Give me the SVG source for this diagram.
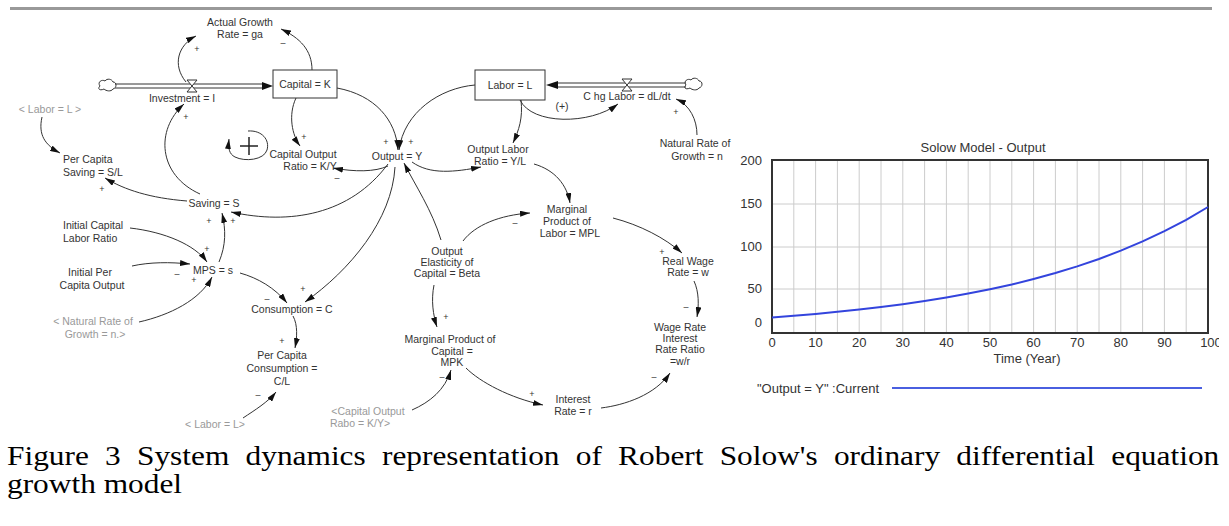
<svg xmlns="http://www.w3.org/2000/svg" width="1229" height="526" viewBox="0 0 1229 526">
<style>
.t{font-family:"Liberation Sans",Arial,sans-serif;font-size:10.5px;fill:#333;text-anchor:middle}
.s{font-family:"Liberation Sans",Arial,sans-serif;font-size:10.5px;fill:#999;text-anchor:middle}
.l{text-anchor:start}
.sg{font-family:"Liberation Sans",Arial,sans-serif;font-size:9px;fill:#333;text-anchor:middle}
.c{fill:none;stroke:#333;stroke-width:1;marker-end:url(#ah)}
.box{fill:#fff;stroke:#333;stroke-width:1}
.pipe{stroke:#333;stroke-width:1;fill:none}
.ct{font-family:"Liberation Sans",Arial,sans-serif;font-size:13px;fill:#333}
.grid{stroke:#ccc;stroke-width:1}
.cap{font-family:"Liberation Serif","Times New Roman",serif;font-size:28px;fill:#000}
</style>
<defs>
<marker id="ah" markerWidth="10" markerHeight="6" refX="10" refY="3" orient="auto" markerUnits="userSpaceOnUse">
<path d="M0,0 L10,3 L0,6 Z" fill="#111"/>
</marker>
<clipPath id="chartclip"><rect x="720" y="120" width="499" height="300"/></clipPath>
</defs>

<rect x="10" y="7" width="1202" height="3" fill="#999"/>

<g id="connectors">
<path class="c" d="M186,82 C172,65 178,45 196,36"/>
<path class="c" d="M312,70 C312,50 300,38 281,29"/>
<path class="c" d="M200,194 C158,175 155,130 184,104"/>
<path class="c" d="M42,117 C38,135 45,145 60,153"/>
<path class="c" d="M187,201 C150,198 125,190 105,178"/>
<path class="c" d="M388,164 C350,215 290,225 231,212"/>
<path class="c" d="M219,262 C226,245 226,230 222,213"/>
<path class="c" d="M130,228 C165,232 195,245 207,262"/>
<path class="c" d="M132,266 C150,262 170,262 190,264"/>
<path class="c" d="M139,322 C170,315 200,300 212,277"/>
<path class="c" d="M240,273 C258,278 275,288 287,303"/>
<path class="c" d="M395,167 C392,220 350,270 305,302"/>
<path class="c" d="M293,316 C298,325 297,338 295,348"/>
<path class="c" d="M243,418 C255,410 268,402 276,392"/>
<path class="c" d="M296,98 C288,115 292,135 300,146"/>
<path class="c" d="M388,166 C375,172 355,172 333,168"/>
<path class="c" d="M337,88 C375,95 396,120 398,150"/>
<path class="c" d="M475,85 C440,88 404,112 399,150"/>
<path class="c" d="M520,100 C532,125 590,125 618,104"/>
<path class="c" d="M697,135 C697,120 690,105 676,99"/>
<path class="c" d="M521,100 C523,118 519,130 513,143"/>
<path class="c" d="M412,162 C430,175 455,172 481,167"/>
<path class="c" d="M534,164 C555,170 567,185 570,203"/>
<path class="c" d="M441,240 C432,210 415,185 404,163"/>
<path class="c" d="M463,241 C475,225 500,215 530,213"/>
<path class="c" d="M434,285 C431,300 433,315 437,327"/>
<path class="c" d="M613,218 C640,225 665,238 682,253"/>
<path class="c" d="M694,281 C699,292 699,305 697,317"/>
<path class="c" d="M466,368 C480,382 510,398 543,405"/>
<path class="c" d="M601,408 C625,405 655,395 670,373"/>
<path class="c" d="M412,410 C430,402 445,390 451,370"/>
<!-- loop symbol -->
<path class="c" d="M248,131 C262,130 270,140 267,150 C264,160 245,162 235,157 C229,154 228,148 229,139"/>
<!-- polarity signs -->
<text class="sg" x="197" y="52">+</text>
<text class="sg" x="283" y="46">–</text>
<text class="sg" x="186" y="120">+</text>
<text class="sg" x="102" y="192">+</text>
<text class="sg" x="233" y="224">+</text>
<text class="sg" x="209" y="224">+</text>
<text class="sg" x="207" y="252">+</text>
<text class="sg" x="177" y="277">–</text>
<text class="sg" x="194" y="283">+</text>
<text class="sg" x="267" y="302">–</text>
<text class="sg" x="303" y="292">+</text>
<text class="sg" x="282" y="344">+</text>
<text class="sg" x="258" y="398">–</text>
<text class="sg" x="304" y="140">+</text>
<text class="sg" x="337" y="181">–</text>
<text class="sg" x="386" y="145">+</text>
<text class="sg" x="411" y="145">+</text>
<text class="sg" x="676" y="115">+</text>
<text class="sg" x="515" y="226">–</text>
<text class="sg" x="446" y="320">+</text>
<text class="sg" x="662" y="255">+</text>
<text class="sg" x="686" y="310">–</text>
<text class="sg" x="532" y="397">+</text>
<text class="sg" x="654" y="380">–</text>
<text class="sg" x="442" y="380">–</text>
</g>

<g id="loop-R">
<line x1="240" y1="146" x2="258" y2="146" stroke="#222" stroke-width="1.5"/>
<line x1="249" y1="137" x2="249" y2="155" stroke="#222" stroke-width="1.5"/>
</g>

<g id="investment-flow">
<path d="M100,86 C97,82 102,79 105,81 C107,78 112,79 113,82 C117,82 117,88 113,89 C111,92 106,91 104,89 C100,91 97,89 100,86 Z" fill="#fff" stroke="#333"/>
<line class="pipe" x1="115" y1="84" x2="264" y2="84"/>
<line class="pipe" x1="115" y1="88" x2="264" y2="88"/>
<path d="M262,82 L273,86 L262,90 Z" fill="#111"/>
<path d="M187,80 H197 L187,92 H197 Z" fill="#fff" stroke="#333"/>
<text class="t" x="182" y="102">Investment = I</text>
</g>

<g id="capital">
<rect class="box" x="273" y="70" width="64" height="28"/>
<text class="t" x="305" y="88">Capital = K</text>
</g>

<g id="actual-growth">
<text class="t" x="240" y="26">Actual Growth</text>
<text class="t" x="240" y="38">Rate = ga</text>
</g>

<g id="labor-shadow-1"><text class="s" x="50" y="113">&lt; Labor = L &gt;</text></g>

<g id="per-capita-saving">
<text class="t l" x="63" y="163">Per Capita</text>
<text class="t l" x="63" y="176">Saving = S/L</text>
</g>

<g id="saving"><text class="t" x="214" y="207">Saving = S</text></g>

<g id="initial-capital-labor">
<text class="t l" x="63" y="229">Initial Capital</text>
<text class="t l" x="63" y="242">Labor Ratio</text>
</g>

<g id="mps"><text class="t" x="213" y="274">MPS = s</text></g>

<g id="initial-per-capita">
<text class="t" x="90" y="276">Initial Per</text>
<text class="t" x="92" y="289">Capita Output</text>
</g>

<g id="natural-rate-shadow">
<text class="s" x="93" y="325">&lt; Natural Rate of</text>
<text class="s" x="95" y="338">Growth = n.&gt;</text>
</g>

<g id="consumption"><text class="t" x="292" y="313">Consumption = C</text></g>

<g id="per-capita-consumption">
<text class="t" x="282" y="359">Per Capita</text>
<text class="t" x="282" y="372">Consumption =</text>
<text class="t" x="282" y="385">C/L</text>
</g>

<g id="labor-shadow-2"><text class="s" x="215" y="428">&lt; Labor = L&gt;</text></g>

<g id="capital-output-ratio">
<text class="t" x="303" y="158">Capital Output</text>
<text class="t" x="310" y="170">Ratio = K/Y</text>
</g>

<g id="output"><text class="t" x="397" y="160">Output = Y</text></g>

<g id="labor">
<rect class="box" x="475" y="70" width="70" height="30"/>
<text class="t" x="510" y="89">Labor = L</text>
</g>

<g id="labor-flow">
<path d="M686,85 C683,81 688,78 691,80 C693,77 698,78 699,81 C703,81 703,87 699,88 C697,91 692,90 690,88 C686,90 683,88 686,85 Z" fill="#fff" stroke="#333"/>
<line class="pipe" x1="556" y1="83" x2="686" y2="83"/>
<line class="pipe" x1="556" y1="87" x2="686" y2="87"/>
<path d="M558,81 L546,85 L558,89 Z" fill="#111"/>
<path d="M622,79 H632 L622,91 H632 Z" fill="#fff" stroke="#333"/>
<text class="t" x="627" y="100">C hg Labor = dL/dt</text>
<text class="t" x="562" y="110">(+)</text>
</g>

<g id="natural-rate">
<text class="t" x="695" y="147">Natural Rate of</text>
<text class="t" x="697" y="160">Growth = n</text>
</g>

<g id="output-labor-ratio">
<text class="t" x="498" y="153">Output Labor</text>
<text class="t" x="500" y="165">Ratio = Y/L</text>
</g>

<g id="mpl">
<text class="t" x="567" y="213">Marginal</text>
<text class="t" x="567" y="225">Product of</text>
<text class="t" x="570" y="237">Labor = MPL</text>
</g>

<g id="output-elasticity">
<text class="t" x="447" y="255">Output</text>
<text class="t" x="447" y="266">Elasticity of</text>
<text class="t" x="447" y="277">Capital = Beta</text>
</g>

<g id="mpk">
<text class="t" x="450" y="343">Marginal Product of</text>
<text class="t" x="452" y="355">Capital =</text>
<text class="t" x="452" y="366">MPK</text>
</g>

<g id="real-wage">
<text class="t" x="688" y="265">Real Wage</text>
<text class="t" x="688" y="276">Rate = w</text>
</g>

<g id="wage-interest-ratio">
<text class="t" x="680" y="331">Wage Rate</text>
<text class="t" x="680" y="342">Interest</text>
<text class="t" x="680" y="353">Rate Ratio</text>
<text class="t" x="680" y="365">=w/r</text>
</g>

<g id="interest-rate">
<text class="t" x="573" y="403">Interest</text>
<text class="t" x="573" y="415">Rate = r</text>
</g>

<g id="capital-output-shadow">
<text class="s" x="368" y="415">&lt;Capital Output</text>
<text class="s" x="360" y="427">Rabo = K/Y&gt;</text>
</g>

<g id="chart" clip-path="url(#chartclip)">
<text class="ct" x="983" y="152" text-anchor="middle">Solow Model - Output</text>
<g class="grid">
<line x1="793.8" y1="160" x2="793.8" y2="332"/><line x1="815.6" y1="160" x2="815.6" y2="332"/>
<line x1="837.4" y1="160" x2="837.4" y2="332"/><line x1="859.2" y1="160" x2="859.2" y2="332"/>
<line x1="881" y1="160" x2="881" y2="332"/><line x1="902.8" y1="160" x2="902.8" y2="332"/>
<line x1="924.6" y1="160" x2="924.6" y2="332"/><line x1="946.4" y1="160" x2="946.4" y2="332"/>
<line x1="968.2" y1="160" x2="968.2" y2="332"/><line x1="990" y1="160" x2="990" y2="332"/>
<line x1="1011.8" y1="160" x2="1011.8" y2="332"/><line x1="1033.6" y1="160" x2="1033.6" y2="332"/>
<line x1="1055.4" y1="160" x2="1055.4" y2="332"/><line x1="1077.2" y1="160" x2="1077.2" y2="332"/>
<line x1="1099" y1="160" x2="1099" y2="332"/><line x1="1120.8" y1="160" x2="1120.8" y2="332"/>
<line x1="1142.6" y1="160" x2="1142.6" y2="332"/><line x1="1164.4" y1="160" x2="1164.4" y2="332"/>
<line x1="1186.2" y1="160" x2="1186.2" y2="332"/>
<line x1="772" y1="204" x2="1208" y2="204"/><line x1="772" y1="247" x2="1208" y2="247"/>
<line x1="772" y1="289" x2="1208" y2="289"/>
</g>
<rect x="772" y="160" width="436" height="173" fill="none" stroke="#333" stroke-width="2"/>
<g class="ct" text-anchor="end">
<text x="762" y="165">200</text><text x="762" y="208">150</text>
<text x="762" y="251">100</text><text x="762" y="293">50</text>
<text x="762" y="327">0</text>
</g>
<g class="ct" text-anchor="middle">
<text x="772" y="347">0</text><text x="815.6" y="347">10</text><text x="859.2" y="347">20</text>
<text x="902.8" y="347">30</text><text x="946.4" y="347">40</text><text x="990" y="347">50</text>
<text x="1033.6" y="347">60</text><text x="1077.2" y="347">70</text><text x="1120.8" y="347">80</text>
<text x="1164.4" y="347">90</text><text x="1211" y="347">100</text>
<text x="1027" y="363">Time (Year)</text>
</g>
<polyline fill="none" stroke="#3344dd" stroke-width="2" points="772,317.4 793.8,315.8 815.6,313.9 837.4,311.8 859.2,309.5 881,307 902.8,304.2 924.6,301 946.4,297.5 968.2,293.6 990,289.3 1011.8,284.5 1033.6,279 1055.4,273 1077.2,266.4 1099,259 1120.8,250.6 1142.6,241.4 1164.4,231.2 1186.2,219.8 1208,207"/>
<text class="ct" x="757" y="393">"Output = Y" :Current</text>
<line x1="892" y1="388" x2="1202" y2="388" stroke="#4a5fe0" stroke-width="2"/>
</g>

<g id="caption">
<text class="cap" transform="translate(7,465) scale(1.12,1)" word-spacing="7.5">Figure 3 System dynamics representation of Robert Solow's ordinary differential equation</text>
<text class="cap" transform="translate(7,493) scale(1.12,1)">growth model</text>
</g>
</svg>
